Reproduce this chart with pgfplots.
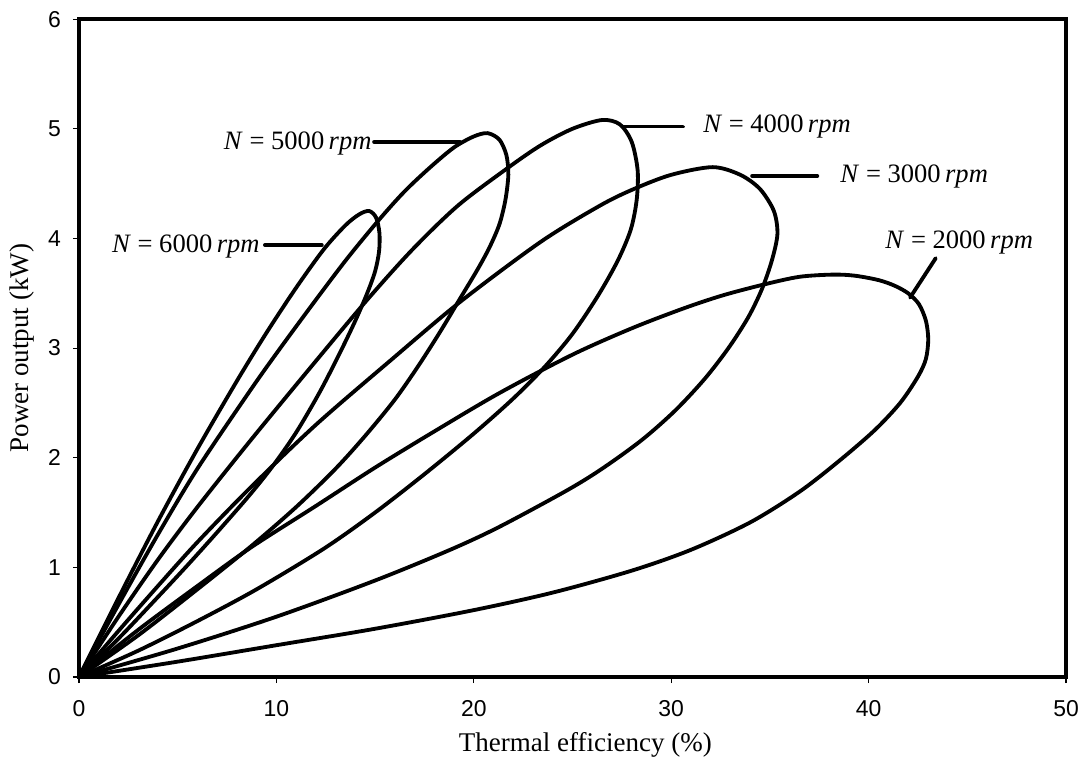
\documentclass[border=0pt]{standalone}
\usepackage{fontspec}
\setmainfont{Liberation Serif}
\newfontfamily\tickfont{Liberation Sans}
\usepackage{pgfplots}
\pgfplotsset{compat=1.18}
\newcommand{\annfont}{\fontsize{11.8}{13}\selectfont}
\begin{document}
\begin{tikzpicture}
\useasboundingbox (-35.1pt,-37.8pt) rectangle (445.8pt,300.9pt);
\begin{axis}[
  at={(0,0)}, anchor=south west,
  scale only axis, width=438.7pt, height=292.4pt,
  xmin=0, xmax=50, ymin=0, ymax=6,
  xtick={0,10,20,30,40,50}, ytick={0,1,2,3,4,5,6},
  xtick pos=left, ytick pos=left,
  tick align=outside, major tick length=2.7pt,
  tick style={line width=0.5pt, black},
  axis line style={line width=1.8pt},
  ticklabel style={font=\tickfont\fontsize{10.2}{12}\selectfont},
  xticklabel style={yshift=-4.2pt},
  yticklabel style={xshift=-1.8pt},
  /pgf/number format/assume math mode=true,
  xlabel={Thermal efficiency (\%)},
  ylabel={Power output (kW)},
  label style={font=\fontsize{12}{14}\selectfont},
  xlabel style={at={(axis description cs:0.513,-0.1026)}, anchor=center},
  ylabel style={at={(axis description cs:-0.0577,0.5)}, anchor=center},
  curve/.style={black, line width=1.7pt, line join=round, line cap=round, mark=none, smooth},
  leader/.style={black, line width=1.7pt, line cap=round, mark=none},
]
% N = 6000 rpm
\addplot[curve] coordinates {(0,0)(2,0.72)(4,1.42)(6,2.08)(8,2.70)(9.5,3.14)(11,3.55)(12.4,3.90)(13.5,4.12)(14.2,4.22)(14.7,4.25)(15.05,4.19)(15.22,4.05)(15.2,3.88)(15.0,3.70)(14.6,3.50)(14.0,3.25)(13.2,2.95)(12.2,2.60)(11,2.23)(9.8,1.92)(8.6,1.65)(7,1.32)(5.5,1.02)(4,0.73)(2,0.35)(0,0)};
% N = 5000 rpm
\addplot[curve] coordinates {(0,0)(2,0.66)(4,1.30)(6,1.90)(8.7,2.62)(10.2,3.00)(12,3.44)(13.6,3.82)(15.2,4.17)(16.5,4.43)(17.8,4.65)(19,4.83)(20,4.93)(20.7,4.96)(21.3,4.90)(21.65,4.76)(21.75,4.58)(21.6,4.35)(21.3,4.13)(20.8,3.92)(20.2,3.72)(19.3,3.45)(18.3,3.15)(17.2,2.84)(16,2.53)(14.5,2.20)(13,1.90)(11,1.55)(8.7,1.19)(6,0.80)(3,0.38)(0,0)};
% N = 4000 rpm
\addplot[curve] coordinates {(0,0)(2,0.55)(4,1.07)(6,1.55)(8.7,2.16)(11.9,2.86)(14.6,3.44)(16.9,3.90)(19.2,4.30)(21.7,4.64)(23.4,4.85)(25,5.00)(26.5,5.08)(27.4,5.04)(28.0,4.88)(28.3,4.62)(28.25,4.35)(27.95,4.08)(27.3,3.80)(26.3,3.48)(25,3.13)(23.6,2.83)(22,2.54)(20,2.22)(17.5,1.85)(15,1.50)(12.4,1.17)(9,0.80)(6,0.51)(3,0.24)(0,0)};
% N = 3000 rpm
\addplot[curve] coordinates {(0,0)(2,0.42)(4,0.83)(6,1.23)(8.7,1.73)(12,2.30)(15.8,2.89)(19.3,3.42)(23.4,3.97)(26.4,4.30)(28.1,4.45)(30,4.58)(32.1,4.65)(33.5,4.58)(34.5,4.45)(35.2,4.25)(35.38,4.04)(35.1,3.80)(34.6,3.54)(33.9,3.28)(32.9,3.00)(31.7,2.72)(30.2,2.43)(28.5,2.16)(26.5,1.90)(24.7,1.70)(21.3,1.37)(18.8,1.16)(15,0.88)(10,0.55)(5,0.26)(0,0)};
% N = 2000 rpm
\addplot[curve] coordinates {(0,0)(3,0.43)(6,0.83)(8.7,1.18)(12,1.56)(15,1.91)(18,2.24)(21.3,2.59)(25,2.94)(28,3.18)(30.6,3.36)(32.6,3.48)(34.7,3.58)(36.5,3.65)(38.2,3.67)(39.3,3.66)(40.5,3.62)(41.3,3.57)(42.0,3.50)(42.55,3.40)(42.9,3.25)(43.02,3.08)(42.9,2.90)(42.5,2.74)(41.6,2.50)(40.3,2.25)(38.5,1.97)(36.5,1.69)(34,1.41)(31,1.16)(28,0.97)(24,0.77)(20,0.61)(15,0.44)(10,0.29)(5,0.14)(0,0)};
% leader lines
\addplot[leader] coordinates {(9.42,3.94)(12.3,3.94)};
\addplot[leader] coordinates {(14.95,4.88)(19.3,4.88)};
\addplot[leader] coordinates {(27.56,5.02)(30.6,5.02)};
\addplot[leader] coordinates {(34.1,4.57)(37.4,4.57)};
\addplot[leader] coordinates {(42.1,3.46)(43.4,3.82)};
% labels
\node[anchor=base east, inner sep=0pt, font=\annfont] at (axis cs:9.17,3.87) {\textit{N} = 6000\,\textit{rpm}};
\node[anchor=base east, inner sep=0pt, font=\annfont] at (axis cs:14.84,4.81) {\textit{N} = 5000\,\textit{rpm}};
\node[anchor=base west, inner sep=0pt, font=\annfont] at (axis cs:31.6,4.97) {\textit{N} = 4000\,\textit{rpm}};
\node[anchor=base west, inner sep=0pt, font=\annfont] at (axis cs:38.55,4.51) {\textit{N} = 3000\,\textit{rpm}};
\node[anchor=base west, inner sep=0pt, font=\annfont] at (axis cs:40.83,3.91) {\textit{N} = 2000\,\textit{rpm}};
\end{axis}
\end{tikzpicture}
\end{document}
